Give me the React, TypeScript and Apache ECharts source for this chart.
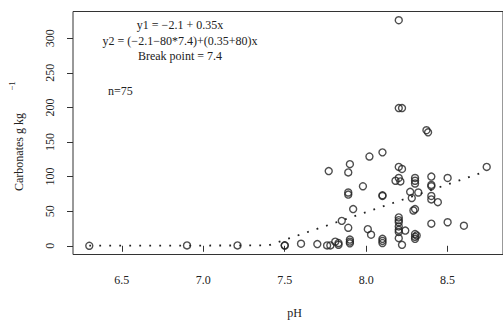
import React, { useEffect, useRef } from "react";
import * as echarts from "echarts";

const phValues = [
  6.30, 6.90, 7.21, 7.50, 7.50, 7.60, 7.70, 7.76, 7.78, 7.81, 7.83, 7.83, 7.90, 7.90, 7.90,
  7.77, 7.90, 7.89, 7.89, 7.89, 7.92, 7.85, 7.89, 7.98, 8.01, 8.03, 8.02, 8.10, 8.10, 8.10,
  8.10, 8.10, 8.10, 8.20, 8.20, 8.22, 8.37, 8.38, 8.20, 8.22, 8.18, 8.20, 8.21, 8.20, 8.20,
  8.20, 8.20, 8.20, 8.24, 8.20, 8.22, 8.30, 8.30, 8.30, 8.27, 8.28, 8.32, 8.29, 8.30, 8.30,
  8.30, 8.30, 8.40, 8.40, 8.40, 8.40, 8.40, 8.44, 8.40, 8.50, 8.50, 8.60, 8.74, 8.20, 8.31,
];
const carbValues = [
  0, 0.5, 0.5, 0.7, 0.3, 3, 2.5, 0.5, 0.5, 6, 4, 1.5, 9, 6, 3.5,
  108, 118, 106, 74, 77, 53, 36, 26, 86, 24, 16, 129, 135, 72, 73,
  10, 7, 4, 326, 199, 199, 167, 164, 114, 111, 94, 98, 93, 41, 37,
  34, 23, 20, 22, 11, 1.4, 98, 94, 90, 78, 69, 77, 51, 53, 17,
  13, 10, 100, 88, 86, 72, 67, 63, 32, 98, 34, 29, 114, 28, 15,
];
const fitX = [6.3, 7.4, 8.74];
const fitY = [0.1, 0.5, 108];
const xTicks = [6.5, 7.0, 7.5, 8.0, 8.5];
const yTicks = [0, 50, 100, 150, 200, 250, 300];
const annotationLines = ["y1 = \u22122.1 + 0.35x", "y2 = (\u22122.1\u221280*7.4)+(0.35+80)x", "Break point = 7.4"];
const nLabel = "n=75";
const xTitle = "pH";
const yTitle = "Carbonates g kg";
const yTitleSup = "\u22121";

const FONT = "Liberation Serif";
const INK = "#222";

export default function App() {
  const ref = useRef<HTMLDivElement>(null);
  useEffect(() => {
    if (!ref.current) return;
    const chart = echarts.init(ref.current, undefined, { renderer: "svg" });
    const scatterData = phValues.map((x, i) => [x, carbValues[i]]);
    const fitData = fitX.map((x, i) => [x, fitY[i]]);
    chart.setOption({
      animation: false,
      backgroundColor: "#fff",
      grid: {
        left: 73,
        top: 11.5,
        bottom: 66.5,
        right: -13,
        show: true,
        borderColor: "#333",
        borderWidth: 1,
        backgroundColor: "transparent",
      },
      xAxis: {
        type: "value",
        min: 6.2,
        max: 8.84,
        splitLine: { show: false },
        axisLine: { show: false },
        axisTick: {
          show: true,
          length: 6,
          customValues: xTicks,
          lineStyle: { color: "#333", width: 1 },
        },
        axisLabel: {
          customValues: xTicks,
          margin: 19,
          fontFamily: FONT,
          fontSize: 12,
          color: INK,
          formatter: (v: number) => v.toFixed(1),
        },
      },
      yAxis: {
        type: "value",
        min: -12.6,
        max: 338.6,
        splitLine: { show: false },
        axisLine: { show: false },
        axisTick: {
          show: true,
          length: 6,
          customValues: yTicks,
          lineStyle: { color: "#333", width: 1 },
        },
        axisLabel: {
          customValues: yTicks,
          rotate: 90,
          margin: 17,
          fontFamily: FONT,
          fontSize: 12,
          color: INK,
        },
      },
      series: [
        {
          type: "line",
          data: fitData,
          symbol: "none",
          lineStyle: { color: "#222", width: 1.8, type: [1.8, 8.2] },
          z: 1,
        },
        {
          type: "scatter",
          data: scatterData,
          symbol: "circle",
          symbolSize: 7,
          itemStyle: { color: "rgba(0,0,0,0)", borderColor: "#222", borderWidth: 1.4 },
          z: 2,
        },
      ],
      graphic: [
        ...annotationLines.map((t, i) => ({
          type: "text",
          x: 180,
          y: 25 + i * 15.5,
          style: { text: t, fontFamily: FONT, fontSize: 12, fill: INK, align: "center", verticalAlign: "middle" },
        })),
        {
          type: "text",
          x: 108,
          y: 91,
          style: { text: nLabel, fontFamily: FONT, fontSize: 12, fill: INK, align: "left", verticalAlign: "middle" },
        },
        {
          type: "text",
          x: 294.5,
          y: 313,
          style: { text: xTitle, fontFamily: FONT, fontSize: 12, fill: INK, align: "center", verticalAlign: "middle" },
        },
        {
          type: "text",
          x: 19,
          y: 152,
          rotation: Math.PI / 2,
          style: { text: yTitle, fontFamily: FONT, fontSize: 12, fill: INK, align: "center", verticalAlign: "middle" },
        },
        {
          type: "text",
          x: 12,
          y: 86,
          rotation: Math.PI / 2,
          style: { text: yTitleSup, fontFamily: FONT, fontSize: 9, fill: INK, align: "center", verticalAlign: "middle" },
        },
      ],
    });
    return () => chart.dispose();
  }, []);
  return (
    <div
      ref={ref}
      style={{ position: "absolute", left: 0, top: 0, width: 503, height: 321 }}
    />
  );
}
